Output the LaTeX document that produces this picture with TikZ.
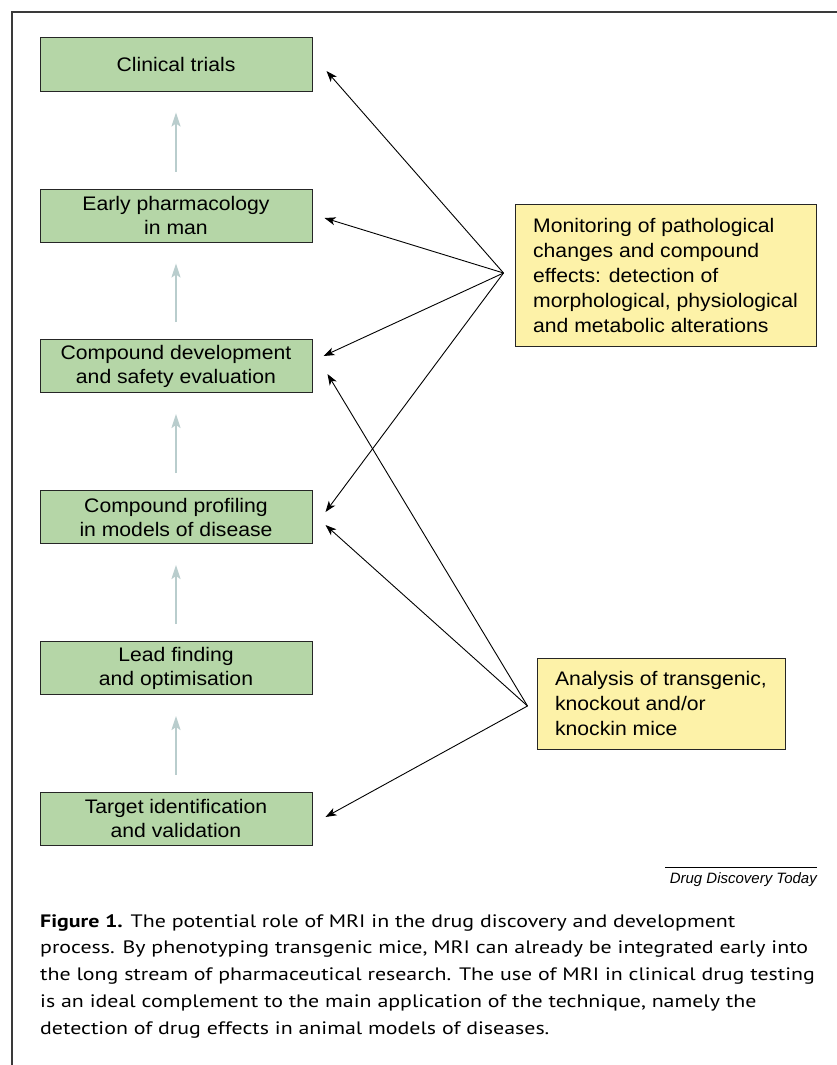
\documentclass[tikz,border=0pt]{standalone}
\usepackage{fontspec}
\setmainfont{Liberation Sans}[FakeStretch=1.08]
\newfontfamily\capfont{PT Sans}
\newfontfamily\ddtfont{Liberation Sans}
\usetikzlibrary{arrows.meta,calc}
\definecolor{boxgreen}{HTML}{B5D6A7}
\definecolor{noteyellow}{HTML}{FDF2A8}
\definecolor{flowgrey}{HTML}{B9CDCD}
\definecolor{framegrey}{HTML}{3A3A3A}
\newlength\capwd
\newcommand\capsize{\capfont\fontsize{18}{26.75}\selectfont}
\settowidth\capwd{\capsize process. By phenotyping transgenic mice, MRI can already be integrated early into}
\begin{document}
\begin{tikzpicture}[x=1pt,y=-1pt,
  stage/.style={draw=black!85, line width=1pt, fill=boxgreen, minimum width=272pt,
    minimum height=53pt, inner sep=0pt, align=center,
    font=\fontsize{19.6}{24}\selectfont},
  note/.style={draw=black!85, line width=1pt, fill=noteyellow, align=left,
    inner xsep=18pt, inner ysep=0pt, font=\fontsize{19.6}{25}\selectfont},
  flow/.style={draw=flowgrey, line width=2pt, -{Stealth[length=14pt,width=9pt,inset=3pt]}},
  link/.style={draw=black, line width=0.9pt, -{Stealth[length=11pt,width=8pt,inset=3pt]}}
]
\useasboundingbox (0,0) rectangle (836,1065);
\fill[white] (0,0) rectangle (836,1065);
% frame
\draw[framegrey, line width=1.5pt] (12,1066) -- (12,12) -- (837,12);

% stages
\node[stage] (clin) at (176,64.5) {Clinical trials};
\node[stage] (early) at (176,215.5) {Early pharmacology\\in man};
\node[stage] (dev) at (176,366) {Compound development\\and safety evaluation};
\node[stage] (prof) at (176,517) {Compound profiling\\in models of disease};
\node[stage] (lead) at (176,668) {Lead finding\\and optimisation};
\node[stage] (targ) at (176,818.5) {Target identification\\and validation};

% flow arrows
\foreach \lo/\hi in {early/clin, dev/early, prof/dev, lead/prof, targ/lead}{
  \draw[flow] ($(\lo.north)+(0,-17)$) -- ($(\hi.south)+(0,21)$);
}

% notes
\node[note, minimum width=301pt, minimum height=142pt] (mon) at (665.5,275)
  {Monitoring of pathological\\changes and compound\\effects: detection of\\morphological, physiological\\and metabolic alterations};
\node[note, minimum width=248pt, minimum height=91pt] (ana) at (661,703.5)
  {Analysis of transgenic,\\knockout and/or\\knockin mice};

\coordinate (s1) at ($(mon.west)+(-11,-2)$);
\coordinate (s2) at ($(ana.west)+(-9,2.5)$);

\coordinate (t1) at ($(clin.east)+(14,6.5)$);
\coordinate (t2) at ($(early.east)+(12,2.5)$);
\coordinate (t3) at ($(dev.east)+(11,-10)$);
\coordinate (t4) at ($(prof.east)+(13,-5)$);
\coordinate (u3) at ($(dev.east)+(15,8)$);
\coordinate (u4) at ($(prof.east)+(13,8)$);
\coordinate (u6) at ($(targ.east)+(13,-1.5)$);

\foreach \t in {t1,t2,t3,t4}{ \draw[link] (s1) -- (\t); }
\foreach \t in {u3,u4,u6}{ \draw[link] (s2) -- (\t); }

% credit
\coordinate (rl) at (665,867);
\coordinate (rr) at (817,867);
\draw[black, line width=0.8pt] (rl) -- (rr);
\node[anchor=base east, inner sep=0pt, font=\ddtfont\itshape\fontsize{15}{18}\selectfont] (ddt) at (817,883) {Drug Discovery Today};

% caption
\node[anchor=base west, inner sep=0pt] (cap) at (40,927) {\scalebox{\fpeval{768pt/\capwd}}[1]{\capsize\begin{tabular}[t]{@{}l@{}}
{\bfseries Figure 1.} The potential role of MRI in the drug discovery and development\\
process. By phenotyping transgenic mice, MRI can already be integrated early into\\
the long stream of pharmaceutical research. The use of MRI in clinical drug testing\\
is an ideal complement to the main application of the technique, namely the\\
detection of drug effects in animal models of diseases.
\end{tabular}}};
\end{tikzpicture}
\end{document}
